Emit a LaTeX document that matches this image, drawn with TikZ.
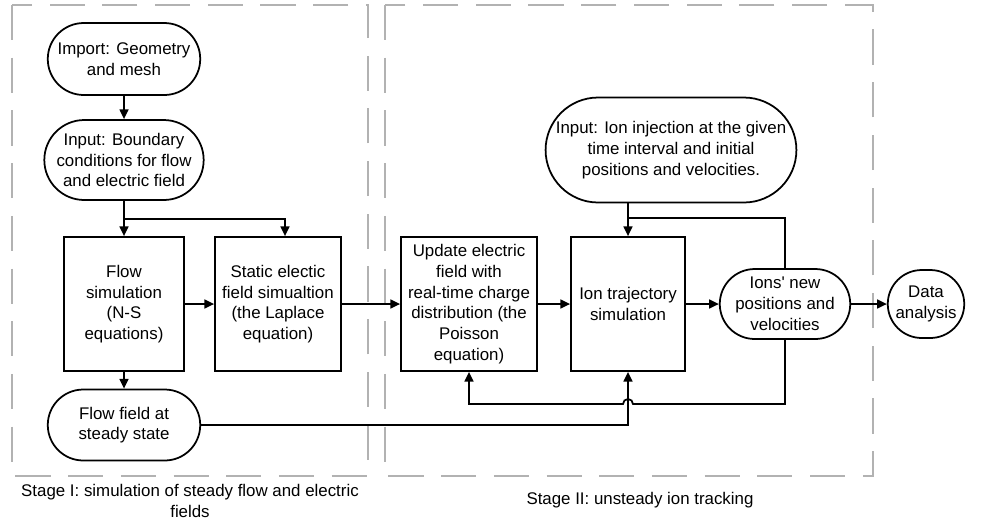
\documentclass[tikz,border=0pt]{standalone}
\usepackage{fontspec}
\setmainfont{Liberation Sans}
\usepackage{tikz}
\usetikzlibrary{shapes.misc, arrows.meta, positioning, calc}
\usepackage{xcolor}

\begin{document}
\begin{tikzpicture}[x=0.02cm, y=-0.02cm,
  every node/.style={font=\fontsize{9.6}{11.8}\selectfont, align=center},
  term/.style={draw, line width=1pt, rounded rectangle, inner sep=1pt},
  proc/.style={draw, line width=1pt, rectangle, inner sep=1pt, minimum height=2.68cm},
  arr/.style={line width=1pt, -{Triangle[length=5.5pt, width=5pt]}},
  link/.style={line width=1pt},
  stagebox/.style={draw=gray!60, line width=0.9pt, dash pattern=on 20pt off 10pt}]
  \useasboundingbox (0,0) rectangle (984,522);

  % Stages
  \draw[stagebox] (12,5) rectangle (368,476);
  \draw[stagebox] (385,5) rectangle (873,476);
  \node (stageone) at (190,501) {Stage I: simulation of steady flow and electric\\fields};
  \node (stagetwo) at (640,500) {Stage II: unsteady ion tracking};

  % Stage I
  \node[term, minimum width=3.12cm, minimum height=1.44cm] (import) at (124,59) {Import: Geometry\\and mesh};
  \node[term, minimum width=3.12cm, minimum height=1.6cm] (input) at (124,160) {Input: Boundary\\conditions for flow\\and electric field};
  \node[proc, minimum width=2.4cm] (flowsim) at (124,304) {Flow\\simulation\\(N-S\\equations)};
  \node[proc, minimum width=2.52cm] (static) at (278,304) {Static electic\\field simualtion\\(the Laplace\\equation)};
  \node[term, minimum width=3.12cm, minimum height=1.42cm] (flowfield) at (124,425) {Flow field at\\steady state};

  % Stage II
  \node[proc, minimum width=2.72cm] (update) at (469,304) {Update electric\\field with\\real-time charge\\distribution (the\\Poisson\\equation)};
  \node[proc, minimum width=2.28cm] (iontraj) at (628,304) {Ion trajectory\\simulation};
  \node[term, minimum width=4.6cm, minimum height=2.1cm] (inject) at (671,150) {Input: Ion injection at the given\\time interval and initial\\positions and velocities.};
  \node[term, minimum width=2.68cm, minimum height=1.4cm] (ions) at (785,304) {Ions\textquotesingle{} new\\positions and\\velocities};
  \node[term, minimum width=1.6cm, minimum height=1.36cm] (data) at (926,304) {Data\\analysis};

  \coordinate (jtop) at (628,218);
  \coordinate (hopR) at (633,404);

  % Arrows
  \draw[arr] (import) -- (input);
  \draw[arr] (input) -- (flowsim);
  \draw[arr] (input.south) -- ++(0,18) -| ([xshift=0.14cm]static.north);
  \draw[arr] (flowsim) -- (static);
  \draw[arr] (flowsim) -- (flowfield);
  \draw[arr] (static) -- (update);
  \draw[arr] (update) -- (iontraj);
  \draw[arr] (iontraj) -- (ions);
  \draw[arr] (ions) -- (data);
  \draw[arr] (inject.south -| iontraj.north) -- (iontraj.north);
  \draw[link] (ions.north) |- (jtop);
  \draw[arr] (ions.south) |- (hopR) arc[start angle=0, end angle=180, radius=0.1cm] -| (update.south);
  \draw[arr] (flowfield.east) -| (iontraj.south);
\end{tikzpicture}
\end{document}
